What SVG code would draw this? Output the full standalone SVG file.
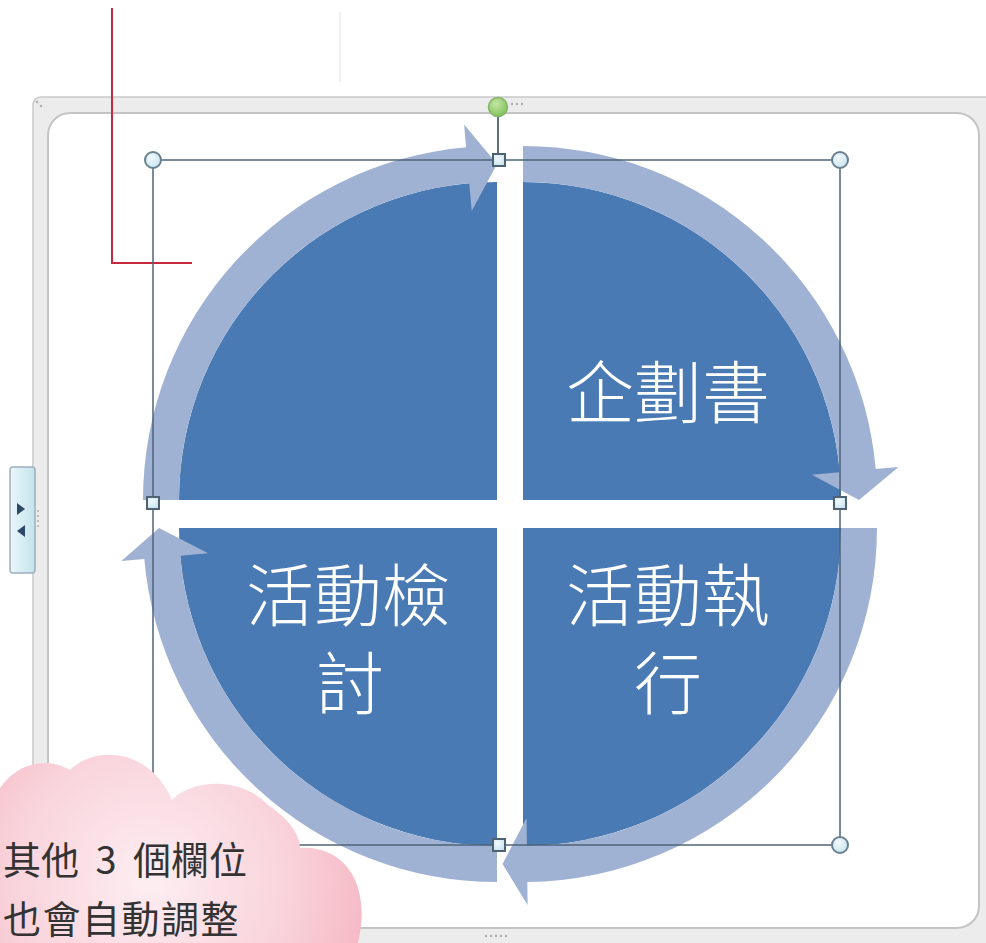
<svg xmlns="http://www.w3.org/2000/svg" width="986" height="943" viewBox="0 0 986 943">
  <defs>
    <radialGradient id="cloudGrad" cx="150" cy="880" r="230" gradientUnits="userSpaceOnUse">
      <stop offset="0" stop-color="#fdeef2"/>
      <stop offset="0.6" stop-color="#f9d3db"/>
      <stop offset="1" stop-color="#f5b6c2"/>
    </radialGradient>
    <linearGradient id="tabGrad" x1="0" y1="0" x2="1" y2="0">
      <stop offset="0" stop-color="#eaf7fb"/>
      <stop offset="1" stop-color="#c4e2ec"/>
    </linearGradient>
    <radialGradient id="greenGrad" cx="0.4" cy="0.35" r="0.7">
      <stop offset="0" stop-color="#c4e6a6"/>
      <stop offset="1" stop-color="#7fbf55"/>
    </radialGradient>
    <radialGradient id="handleGrad" cx="0.4" cy="0.35" r="0.7">
      <stop offset="0" stop-color="#f1fafd"/>
      <stop offset="1" stop-color="#c7e3ee"/>
    </radialGradient>
  </defs>
  <style>
    .dark { fill: #4a7ab4; }
    .ring { fill: #a0b2d4; }
    .big { font-family: "Noto Sans CJK TC", "Noto Sans CJK SC", sans-serif; font-size: 68px; font-weight: 300; fill: #ffffff; text-anchor: middle; }
    .note { font-family: "Noto Sans CJK TC", "Noto Sans CJK SC", sans-serif; font-size: 38px; fill: #333333; }
    .sel { fill: none; stroke: #4e6478; stroke-width: 1.5; }
    .corner { fill: url(#handleGrad); stroke: #6a808e; stroke-width: 2; }
    .side { fill: url(#handleGrad); stroke: #4e6272; stroke-width: 2; }
    .dot { fill: #b0b0b0; }
  </style>

  <rect x="0" y="0" width="986" height="943" fill="#ffffff"/>

  <!-- faint background marks -->
  <line x1="340" y1="12" x2="340" y2="82" stroke="#f0eaea" stroke-width="1.5"/>

  <!-- frame -->
  <g id="frame">
    <rect x="33" y="97" width="960" height="852" rx="8" fill="#ececec" stroke="#c9c9c9" stroke-width="1.5"/>
    <rect x="48" y="113" width="931" height="815" rx="22" fill="#ffffff" stroke="#c4c4c4" stroke-width="2"/>
    <circle cx="37" cy="102" r="1.3" class="dot"/>
    <circle cx="41" cy="106" r="1.3" class="dot"/>
    <circle cx="512" cy="104" r="1.2" class="dot"/>
    <circle cx="517" cy="104" r="1.2" class="dot"/>
    <circle cx="522" cy="104" r="1.2" class="dot"/>
    <circle cx="486" cy="936" r="1.2" class="dot"/>
    <circle cx="491" cy="936" r="1.2" class="dot"/>
    <circle cx="496" cy="936" r="1.2" class="dot"/>
    <circle cx="501" cy="936" r="1.2" class="dot"/>
    <circle cx="506" cy="936" r="1.2" class="dot"/>
  </g>

  <!-- red guide line -->
  <g id="guide">
    <polyline points="112,8 112,263 192,263" fill="none" stroke="#c8283c" stroke-width="2"/>
  </g>

  <!-- quadrants -->
  <g id="q-tl"><path class="dark" d="M497,500 L179,500 A318,318 0 0 1 497,182 Z"/></g>
  <g id="q-tr"><path class="dark" d="M523,500 L523,182 A318,318 0 0 1 841,500 Z"/>
    <text class="big" x="668" y="418">企劃書</text></g>
  <g id="q-br"><path class="dark" d="M523,528 L841,528 A318,318 0 0 1 523,846 Z"/>
    <text class="big"><tspan x="668" y="621">活動執</tspan><tspan x="668" y="709">行</tspan></text></g>
  <g id="q-bl"><path class="dark" d="M497,528 L497,846 A318,318 0 0 1 179,528 Z"/>
    <text class="big"><tspan x="348" y="621">活動檢</tspan><tspan x="350" y="709">討</tspan></text></g>

  <!-- cycle arrows -->
  <g id="connectors">
    <path class="ring" d="M143,500 A354,354 0 0 1 466.1,147.3 L464.1,124.4 L497,164 L471.7,211.1 L469.3,183.2 A318,318 0 0 0 179,500 Z"/>
    <path class="ring" d="M523,146 A354,354 0 0 1 875.7,469.1 L898.6,467.1 L859,500 L811.9,474.7 L839.8,472.3 A318,318 0 0 0 523,182 Z"/>
    <path class="ring" d="M877,528 A354,354 0 0 1 527.3,882 L527.6,905 L502.5,864 L526.5,818 L526.9,846 A318,318 0 0 0 841,528 Z"/>
    <path class="ring" d="M497,882 A354,354 0 0 1 144.3,558.9 L121.4,560.9 L159,528 L208.1,553.3 L180.2,555.7 A318,318 0 0 0 497,846 Z"/>
  </g>

  <!-- selection box -->
  <g id="selection">
    <rect class="sel" x="153" y="160" width="687" height="685"/>
    <line x1="498" y1="116" x2="498" y2="154" stroke="#5a6e7e" stroke-width="2"/>
    <circle cx="498" cy="107" r="9.5" fill="url(#greenGrad)" stroke="#86b46a" stroke-width="1.5"/>
    <circle class="corner" cx="153" cy="160" r="8"/>
    <circle class="corner" cx="840" cy="160" r="8"/>
    <circle class="corner" cx="153" cy="845" r="8"/>
    <circle class="corner" cx="840" cy="845" r="8"/>
    <rect class="side" x="493" y="154" width="12" height="12"/>
    <rect class="side" x="147" y="497" width="12" height="12"/>
    <rect class="side" x="834" y="497" width="12" height="12"/>
    <rect class="side" x="493" y="839" width="12" height="12"/>
  </g>

  <!-- left tab -->
  <g id="tab">
    <rect x="10" y="467" width="25" height="106" rx="3" fill="url(#tabGrad)" stroke="#9fb0ba" stroke-width="1.5"/>
    <polygon points="17,503 25,509 17,515" fill="#2d4866"/>
    <polygon points="25,525 17,531 25,537" fill="#2d4866"/>
    <circle cx="38" cy="511" r="1.1" class="dot"/>
    <circle cx="38" cy="516" r="1.1" class="dot"/>
    <circle cx="38" cy="521" r="1.1" class="dot"/>
    <circle cx="38" cy="526" r="1.1" class="dot"/>
  </g>

  <!-- cloud callout -->
  <g id="cloud">
    <path fill="url(#cloudGrad)" d="M0,788 C20,760 50,758 70,770 C95,745 150,748 172,800 C190,780 240,775 268,805 C290,820 300,835 300,848 C345,845 372,885 358,943 L0,943 Z"/>
    <text class="note" x="3" y="874" word-spacing="8">其他 3 個欄位</text>
    <text class="note" x="3" y="933" letter-spacing="1.5">也會自動調整</text>
  </g>
</svg>
